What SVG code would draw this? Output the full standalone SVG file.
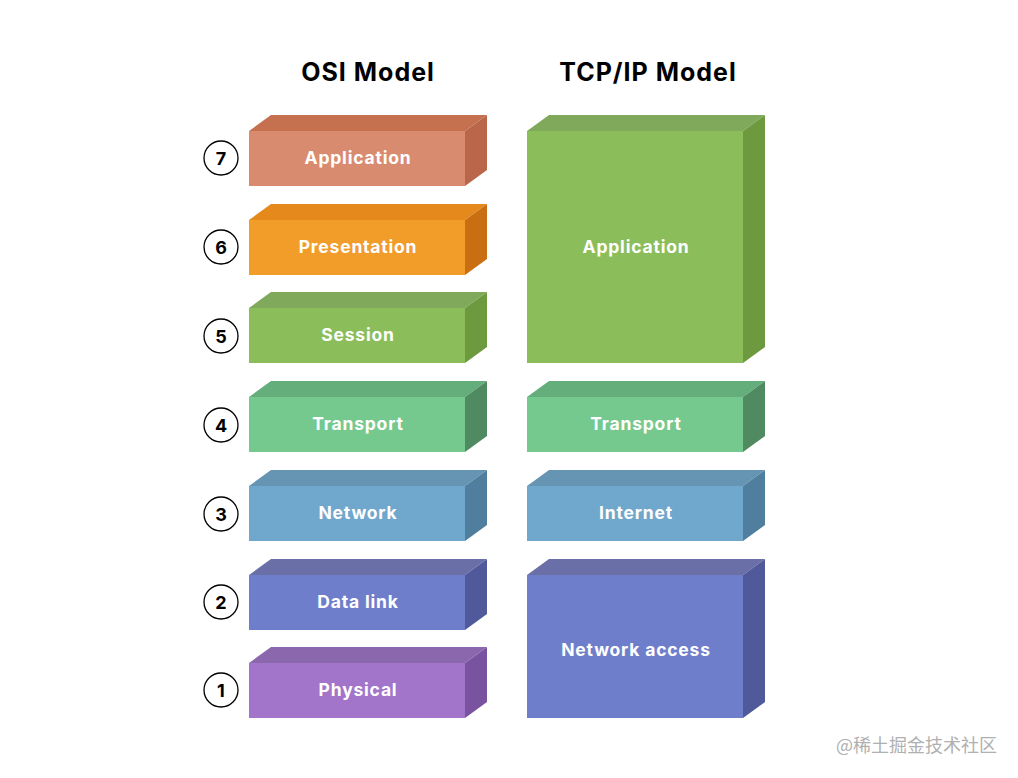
<svg xmlns="http://www.w3.org/2000/svg" width="1018" height="778" viewBox="0 0 1018 778">
<style>
.t{font-family:Inter,"Open Sans",sans-serif;font-weight:700;fill:#000;font-size:25px;letter-spacing:1px;text-anchor:middle}
.l{font-family:Inter,"Open Sans",sans-serif;font-weight:700;fill:#fff;font-size:17.5px;letter-spacing:0.8px;text-anchor:middle}
.n{font-family:Inter,"Open Sans",sans-serif;font-weight:700;fill:#000;font-size:18px;text-anchor:middle}
.c{fill:#fff;stroke:#000;stroke-width:1.3}
.w{font-family:"Noto Sans CJK SC",sans-serif;fill:#b0b0b0;font-size:18px}
</style>
<rect width="1018" height="778" fill="#fff"/>
<text class="t" x="368" y="81">OSI Model</text>
<text class="t" x="648" y="81">TCP/IP Model</text>
<g id="osi7">
<polygon points="249,131 271,115 487,115 465,131" fill="#C5714F"/>
<polygon points="465,131 487,115 487,170 465,186" fill="#B9664A"/>
<rect x="249" y="131" width="216" height="55" fill="#D98B6F"/>
<text class="l" x="358" y="164">Application</text>
<circle class="c" cx="221" cy="158" r="17"/><text class="n" x="221" y="164.5">7</text>
</g>
<g id="osi6">
<polygon points="249,220 271,204 487,204 465,220" fill="#E5891C"/>
<polygon points="465,220 487,204 487,259 465,275" fill="#C96F12"/>
<rect x="249" y="220" width="216" height="55" fill="#F29C2A"/>
<text class="l" x="358" y="253">Presentation</text>
<circle class="c" cx="221" cy="247" r="17"/><text class="n" x="221" y="253.5">6</text>
</g>
<g id="osi5">
<polygon points="249,308 271,292 487,292 465,308" fill="#80A95B"/>
<polygon points="465,308 487,292 487,347 465,363" fill="#6E9A3F"/>
<rect x="249" y="308" width="216" height="55" fill="#8BBE5A"/>
<text class="l" x="358" y="341">Session</text>
<circle class="c" cx="221" cy="336" r="17"/><text class="n" x="221" y="342.5">5</text>
</g>
<g id="osi4">
<polygon points="249,397 271,381 487,381 465,397" fill="#63AE7B"/>
<polygon points="465,397 487,381 487,436 465,452" fill="#4F8A60"/>
<rect x="249" y="397" width="216" height="55" fill="#75C98F"/>
<text class="l" x="358" y="430">Transport</text>
<circle class="c" cx="221" cy="425" r="17"/><text class="n" x="221" y="431.5">4</text>
</g>
<g id="osi3">
<polygon points="249,486 271,470 487,470 465,486" fill="#6695B3"/>
<polygon points="465,486 487,470 487,525 465,541" fill="#4F7E9E"/>
<rect x="249" y="486" width="216" height="55" fill="#70A7CD"/>
<text class="l" x="358" y="519">Network</text>
<circle class="c" cx="221" cy="514" r="17"/><text class="n" x="221" y="520.5">3</text>
</g>
<g id="osi2">
<polygon points="249,575 271,559 487,559 465,575" fill="#6A6FA8"/>
<polygon points="465,575 487,559 487,614 465,630" fill="#50599A"/>
<rect x="249" y="575" width="216" height="55" fill="#6F7ECB"/>
<text class="l" x="358" y="608">Data link</text>
<circle class="c" cx="221" cy="602" r="17"/><text class="n" x="221" y="608.5">2</text>
</g>
<g id="osi1">
<polygon points="249,663 271,647 487,647 465,663" fill="#8B68AE"/>
<polygon points="465,663 487,647 487,702 465,718" fill="#7A53A0"/>
<rect x="249" y="663" width="216" height="55" fill="#A275CA"/>
<text class="l" x="358" y="696">Physical</text>
<circle class="c" cx="221" cy="690" r="17"/><text class="n" x="221" y="696.5">1</text>
</g>
<g id="tcp-app">
<polygon points="527,131 549,115 765,115 743,131" fill="#80A95B"/>
<polygon points="743,131 765,115 765,347 743,363" fill="#6E9A3F"/>
<rect x="527" y="131" width="216" height="232" fill="#8BBE5A"/>
<text class="l" x="636" y="253">Application</text>
</g>
<g id="tcp-transport">
<polygon points="527,397 549,381 765,381 743,397" fill="#63AE7B"/>
<polygon points="743,397 765,381 765,436 743,452" fill="#4F8A60"/>
<rect x="527" y="397" width="216" height="55" fill="#75C98F"/>
<text class="l" x="636" y="430">Transport</text>
</g>
<g id="tcp-internet">
<polygon points="527,486 549,470 765,470 743,486" fill="#6695B3"/>
<polygon points="743,486 765,470 765,525 743,541" fill="#4F7E9E"/>
<rect x="527" y="486" width="216" height="55" fill="#70A7CD"/>
<text class="l" x="636" y="519">Internet</text>
</g>
<g id="tcp-netaccess">
<polygon points="527,575 549,559 765,559 743,575" fill="#6A6FA8"/>
<polygon points="743,575 765,559 765,702 743,718" fill="#50599A"/>
<rect x="527" y="575" width="216" height="143" fill="#6F7ECB"/>
<text class="l" x="636" y="656">Network access</text>
</g>
<g id="connectors"/>
<text class="w" x="836" y="752">@稀土掘金技术社区</text>
</svg>
